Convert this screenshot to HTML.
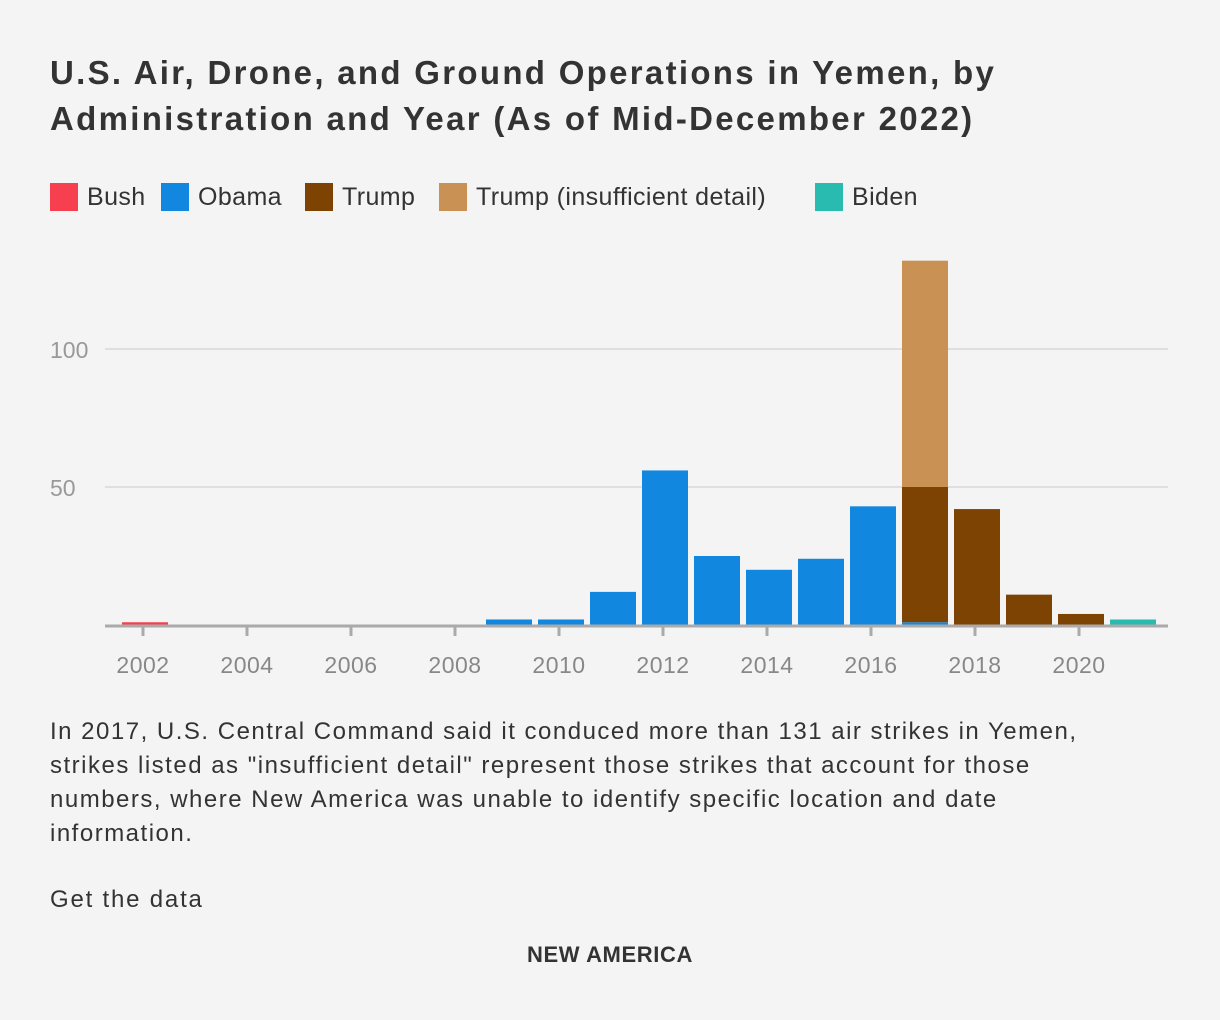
<!DOCTYPE html>
<html><head><meta charset="utf-8"><style>
body{margin:0;background:#f4f4f4;font-family:"Liberation Sans",sans-serif;color:#333;}
#wrap{position:relative;width:1220px;height:1020px;overflow:hidden;}
h1{position:absolute;left:50px;top:50px;margin:0;font-size:33px;line-height:46px;font-weight:bold;color:#333;width:1160px;letter-spacing:2.3px;white-space:nowrap;}
.legend{position:absolute;top:182px;left:0;width:1220px;height:32px;font-size:25px;line-height:30px;}
.li{position:absolute;top:0;display:flex;align-items:center;letter-spacing:0.4px;}
.sw{width:28px;height:28px;margin-right:9px;}
.note{position:absolute;left:50px;top:715px;font-size:24px;line-height:34px;width:1160px;letter-spacing:1.5px;white-space:nowrap;}
.get{position:absolute;left:50px;top:886px;font-size:24px;letter-spacing:1.8px;}
.brand{position:absolute;left:0;width:1220px;text-align:center;top:942px;font-size:22px;font-weight:bold;letter-spacing:0.6px;}
</style></head><body><div id="wrap">
<h1>U.S. Air, Drone, and Ground Operations in Yemen, by<br>Administration and Year (As of Mid-December 2022)</h1>
<div class="legend">
<div class="li" style="left:50px"><div class="sw" style="background:#f6404f"></div>Bush</div>
<div class="li" style="left:161px"><div class="sw" style="background:#1187e0"></div>Obama</div>
<div class="li" style="left:305px"><div class="sw" style="background:#7d4303"></div>Trump</div>
<div class="li" style="left:439px"><div class="sw" style="background:#c99153"></div>Trump (insufficient detail)</div>
<div class="li" style="left:815px"><div class="sw" style="background:#2abbb0"></div>Biden</div>
</div>
<svg id="chart" width="1220" height="1020" style="position:absolute;left:0;top:0"></svg>
<div class="note">In 2017, U.S. Central Command said it conduced more than 131 air strikes in Yemen,<br>strikes listed as "insufficient detail" represent those strikes that account for those<br>numbers, where New America was unable to identify specific location and date<br>information.</div>
<div class="get">Get the data</div>
<div class="brand">NEW AMERICA</div>
</div>
<script>
const years=[2002,2003,2004,2005,2006,2007,2008,2009,2010,2011,2012,2013,2014,2015,2016,2017,2018,2019,2020,2021];
const bush=[1,0,0,0,0,0,0,0,0,0,0,0,0,0,0,0,0,0,0,0];
const obama=[0,0,0,0,0,0,0,2,2,12,56,25,20,24,43,1,0,0,0,0];
const trump=[0,0,0,0,0,0,0,0,0,0,0,0,0,0,0,49,42,11,4,0];
const trumpInsuff=[0,0,0,0,0,0,0,0,0,0,0,0,0,0,0,82,0,0,0,0];
const biden=[0,0,0,0,0,0,0,0,0,0,0,0,0,0,0,0,0,0,0,2];
const yTicks=[50,100];
const xTicks=[2002,2004,2006,2008,2010,2012,2014,2016,2018,2020];
const series=[["bush",bush,"#f6404f"],["obama",obama,"#1187e0"],["trump",trump,"#7d4303"],["trump-insufficient",trumpInsuff,"#c99153"],["biden",biden,"#2abbb0"]];
const NS="http://www.w3.org/2000/svg",svg=document.getElementById('chart');
const x=y=>143+(y-2002)*52, yv=v=>625-v*2.76, bw=46;
function mk(t,a){const e=document.createElementNS(NS,t);for(const k in a)e.setAttribute(k,a[k]);svg.appendChild(e);return e;}
yTicks.forEach(t=>{const l=mk('line',{x1:105,x2:1168,y1:yv(t),y2:yv(t),stroke:'#d8d8d8','stroke-width':1.5});


const tx=mk('text',{x:50,y:yv(t)+9,'font-size':23,fill:'#999','font-family':'Liberation Sans'});tx.textContent=t;

});
years.forEach((yr,i)=>{let base=0;series.forEach(([n,arr,c])=>{const v=arr[i];if(!v)return;
const r=mk('rect',{x:x(yr)-bw/2+2,y:yv(base+v),width:bw,height:v*2.76,fill:c});


base+=v;});});
const ax=mk('line',{x1:105,x2:1168,y1:626,y2:626,stroke:'#aaa','stroke-width':3});


xTicks.forEach(t=>{const l=mk('line',{x1:x(t),x2:x(t),y1:626,y2:636,stroke:'#aaa','stroke-width':3});


const tx=mk('text',{x:x(t),y:673,'font-size':23,fill:'#888','text-anchor':'middle','font-family':'Liberation Sans','letter-spacing':'0.5'});tx.textContent=t;

});
</script></body></html>
